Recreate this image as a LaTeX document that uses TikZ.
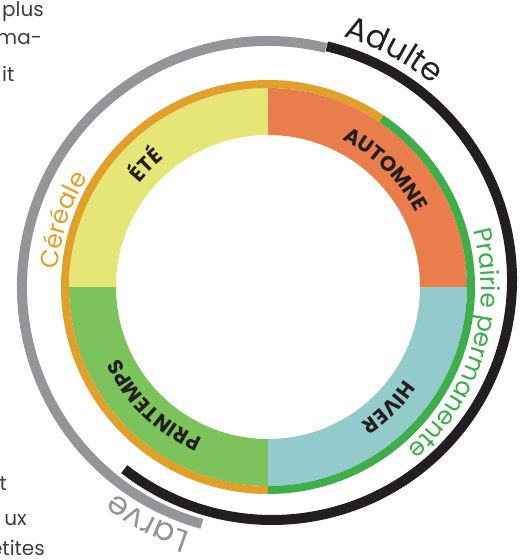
\documentclass[tikz,border=0pt]{standalone}
\usepackage{fontspec}
\setmainfont{Poppins}
\usetikzlibrary{decorations.text,calc}
\definecolor{cYel}{HTML}{E6E677}
\definecolor{cOra}{HTML}{E97D4B}
\definecolor{cBlu}{HTML}{93CBCD}
\definecolor{cGrn}{HTML}{7DC35B}
\definecolor{cGold}{HTML}{E1A02A}
\definecolor{cDGrn}{HTML}{3DAE4A}
\definecolor{cGrey}{HTML}{939598}
\definecolor{cBlk}{HTML}{231F20}
\definecolor{cTxt}{HTML}{3D3D3D}
\newcommand\ringseg[5]{\fill[#1] (#2:#4) arc[start angle=#2,end angle=#3,radius=#4] -- (#3:#5) arc[start angle=#3,end angle=#2,radius=#5] -- cycle;}
\newcommand\fbig{\fontsize{32}{32}\selectfont}
\newcommand\fmid{\fontsize{25}{25}\selectfont}
\newcommand\fquad{\fontsize{21}{21}\selectfont\bfseries}
\begin{document}
\begin{tikzpicture}[x=1pt,y=1pt,
  frag/.style={font=\fontsize{20}{20}\selectfont, text=cTxt, inner sep=0pt},
  curved/.style n args={3}{decorate, decoration={text along path, text={#1}, text align=center, text color=#2}}]
\useasboundingbox (-268,-273) rectangle (260,287);
% quadrants
\ringseg{cOra}{0}{90}{152}{199}
\ringseg{cYel}{90}{180}{152}{199}
\ringseg{cGrn}{180}{270}{152}{199}
\ringseg{cBlu}{270}{360}{152}{199}
% outline band
\ringseg{cGold}{56}{270}{199}{207}
\ringseg{cDGrn}{-90}{56}{199}{207}
% outer arcs
\draw[line width=10pt, cGrey] (76.4:246) arc[start angle=76.4, end angle=254.4, radius=246];
\draw[line width=10pt, cBlk] ($(4,7)+(76.8:240)$) arc[start angle=76.8, end angle=-128, radius=240];
% curved labels
\path[curved={|\fbig|Adulte}{cBlk}] (85:261) arc[start angle=85, end angle=39, radius=261];
\path[curved={|\fmid|Prairie permanente}{cDGrn}] (28:213) arc[start angle=28, end angle=-62, radius=213];
\path[curved={|\fmid|Céréale}{cGold}] (192:211) arc[start angle=192, end angle=132, radius=211];
\path[curved={|\fbig|Larve}{cGrey}] (-95:257) arc[start angle=-95, end angle=-139, radius=257];
\path[curved={|\fquad|ÉTÉ}{cBlk}] (165:165) arc[start angle=165, end angle=105, radius=165];
\path[curved={|\fquad|AUTOMNE}{cBlk}] (85:165) arc[start angle=85, end angle=5, radius=165];
\path[curved={|\fquad|HIVER}{cBlk}] (-5:165) arc[start angle=-5, end angle=-85, radius=165];
\path[curved={|\fquad|PRINTEMPS}{cBlk}] (-88:165) arc[start angle=-88, end angle=-180, radius=165];
% text fragments at the margins
\node[frag, anchor=base west] (f1) at (-266,270) {plus};
\node[frag, anchor=base east] (f2) at (-226,242) {rma-};
\node[frag, anchor=base west] (f3) at (-266,205) {it};
\node[frag, anchor=base east] (f4) at (-261,-203) {t};
\node[frag, anchor=base east] (f5) at (-241,-238) {ux};
\node[frag, anchor=base east] (f6) at (-223,-268) {petites};
\end{tikzpicture}
\end{document}
